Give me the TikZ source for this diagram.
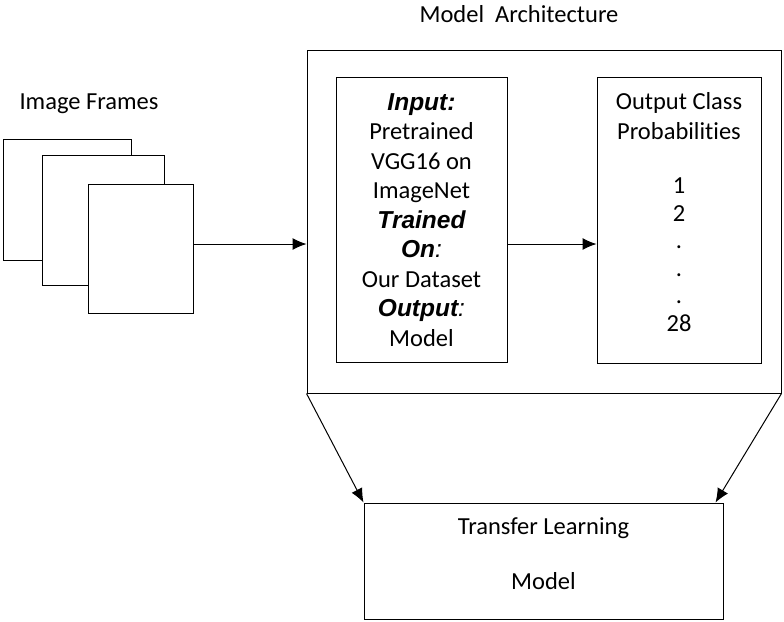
\documentclass[tikz,border=0pt]{standalone}
\usepackage{fontspec}
\setmainfont{Carlito}[Ligatures=NoCommon]
\newfontfamily\arialbf{Liberation Sans}
\usetikzlibrary{arrows.meta,calc}
\tikzset{
    block/.style = {draw, rectangle, line width=1pt, fill=white, inner sep=0pt},
    txt/.style = {font=\fontsize{24.5}{29.5}\selectfont, align=center, inner sep=0pt},
    arrow/.style = {draw, line width=1pt, -{Latex[length=14pt,width=12pt]}}
}
\newcommand{\bi}[1]{{\arialbf\bfseries\itshape #1}}
\newcommand{\icolon}{{\arialbf\itshape :}}

\begin{document}
\begin{tikzpicture}[x=1pt,y=-1pt]
        \useasboundingbox (0,0) rectangle (784,621);
        % stack of frames
        \node [txt] (imglbl) at (89,104) {Image Frames};
        \node [block, minimum width=128pt, minimum height=121pt] (f1) at (67,199.5) {};
        \node [block, minimum width=122pt, minimum height=130pt] (f2) at (103,220) {};
        \node [block, minimum width=105pt, minimum height=129pt] (f3) at (140.5,248.5) {};
        % model architecture
        \node [txt] (archlbl) at (519,14) {Model\ \ Architecture};
        \node [block, minimum width=474pt, minimum height=343pt] (arch) at (544,221.5) {};
        \node [block, txt, minimum width=171pt, minimum height=285pt] (inp) at (421.5,220)
            {\bi{Input:}\\Pretrained\\VGG16 on\\ImageNet\\\bi{Trained}\\\bi{On}\icolon\\Our Dataset\\\bi{Output}\icolon\\Model};
        \node [block, minimum width=164pt, minimum height=286pt] (prob) at (679,220) {};
        \node [txt, font=\fontsize{24.5}{27.5}\selectfont] (probtxt) at (679,212)
            {Output Class\\[2.5pt]Probabilities\\[26.5pt]1\\2\\.\\.\\.\\28};
        % transfer learning
        \node [block, minimum width=359pt, minimum height=116pt] (tl) at (543.5,561) {};
        \node [txt] (tltxt) at (543.5,554) {Transfer Learning\\[25.5pt]Model};
        % connectors
        \coordinate (mid) at (0,244);
        \draw [arrow] (f3.east |- mid) -- (arch.west |- mid);
        \draw [arrow] (inp.east |- mid) -- (prob.west |- mid);
        \draw [arrow] (arch.south west) -- (tl.north west);
        \draw [arrow] (arch.south east) -- ([xshift=-8pt]tl.north east);
\end{tikzpicture}
\end{document}
